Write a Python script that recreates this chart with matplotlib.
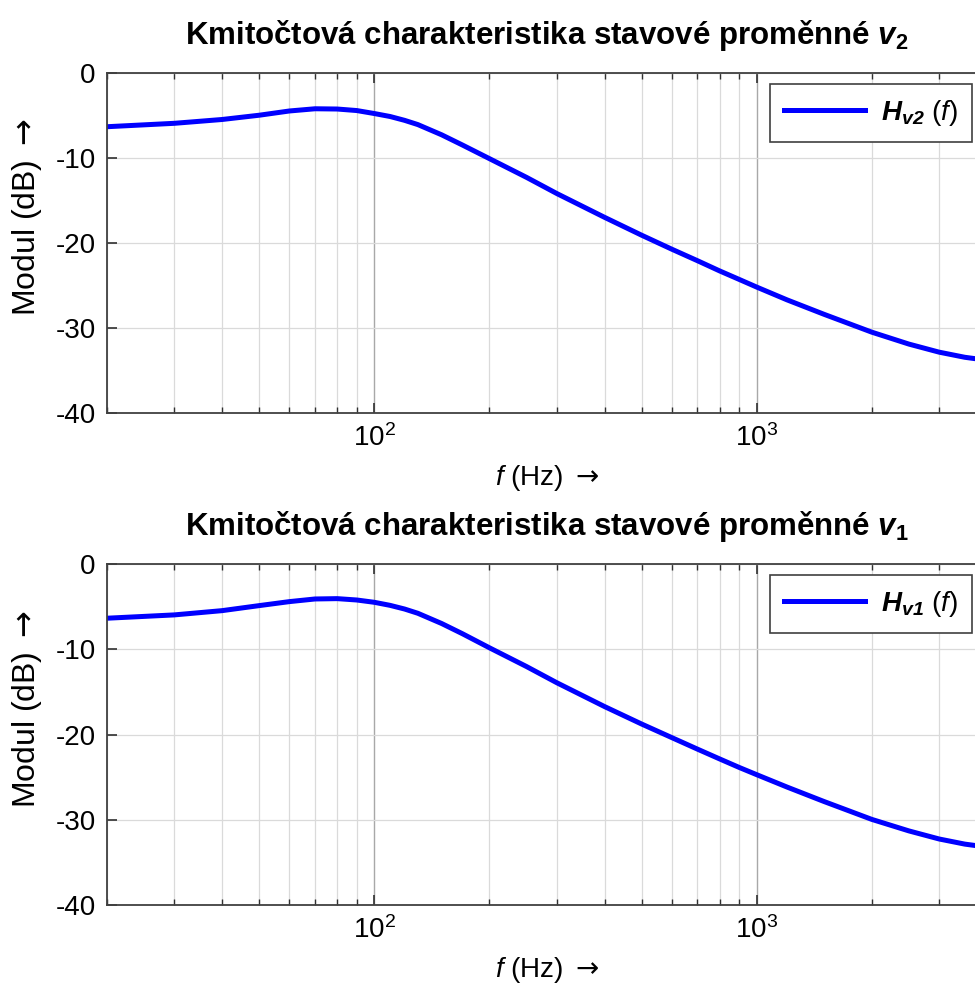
import numpy as np
import matplotlib
matplotlib.use("Agg")
import matplotlib.pyplot as plt
from matplotlib.ticker import LogLocator, NullFormatter

plt.rcParams['font.family'] = ['Liberation Sans', 'DejaVu Sans']
plt.rcParams['mathtext.fontset'] = 'custom'
plt.rcParams['mathtext.rm'] = 'Liberation Sans'
plt.rcParams['mathtext.it'] = 'Liberation Sans:italic'
plt.rcParams['mathtext.bf'] = 'Liberation Sans:bold'
plt.rcParams['mathtext.bfit'] = 'Liberation Sans:bold:italic'
plt.rcParams['mathtext.sf'] = 'DejaVu Sans'
plt.rcParams['axes.unicode_minus'] = False

# kmitocty (Hz) a moduly (dB)
f = [20, 30, 40, 50, 60, 70, 80, 90, 100, 110, 120, 130, 150, 170, 200, 250,
     300, 400, 500, 600, 700, 800, 900, 1000, 1200, 1500, 2000, 2500, 3000,
     3500, 4000]
H_v2 = [-6.35, -5.95, -5.5, -5.0, -4.5, -4.24, -4.27, -4.45, -4.8, -5.15, -5.6,
        -6.1, -7.3, -8.5, -10.1, -12.3, -14.2, -17.0, -19.1, -20.75, -22.1,
        -23.3, -24.3, -25.2, -26.7, -28.4, -30.5, -31.9, -32.85, -33.45, -33.8]
H_v1 = [-6.33, -5.94, -5.44, -4.85, -4.38, -4.07, -4.03, -4.19, -4.46, -4.82,
        -5.25, -5.75, -6.95, -8.15, -9.8, -12.0, -13.9, -16.7, -18.75, -20.35,
        -21.7, -22.85, -23.85, -24.7, -26.15, -27.85, -29.95, -31.3, -32.25,
        -32.85, -33.2]

yticks = [0, -10, -20, -30, -40]

fig = plt.figure(figsize=(9.75, 9.85), dpi=100)

panels = [
    (H_v2, r'$\mathbfit{H}_{\mathbfit{v2}}\ (\mathit{f})$',
     r'Kmitočtová charakteristika stavové proměnné $\mathbfit{v}_{\mathbf{2}}$',
     [0.1097, 0.5807, 0.9026, 0.3455], 1 - 84 / 985),
    (H_v1, r'$\mathbfit{H}_{\mathbfit{v1}}\ (\mathit{f})$',
     r'Kmitočtová charakteristika stavové proměnné $\mathbfit{v}_{\mathbf{1}}$',
     [0.1097, 0.0812, 0.9026, 0.3459], 1 - 575 / 985),
]

for data, lab, title, pos, leg_top in panels:
    ax = fig.add_axes(pos)
    ax.semilogx(f, data, color='#0000ff', lw=3.6, label=lab)
    ax.set_xlim(20, 4000)
    ax.set_ylim(-40, 0)
    ax.set_yticks(yticks)
    ax.xaxis.set_major_locator(LogLocator(base=10, numticks=10))
    ax.xaxis.set_minor_locator(LogLocator(base=10, subs=np.arange(2, 10), numticks=20))
    ax.xaxis.set_minor_formatter(NullFormatter())

    # mrizka
    ax.grid(True, which='major', axis='x', color='#a8a8a8', lw=1.0)
    ax.grid(True, which='minor', axis='x', color='#dadada', lw=0.9)
    ax.grid(True, which='major', axis='y', color='#dadada', lw=0.9)
    ax.set_axisbelow(True)

    ax.tick_params(which='both', direction='in', top=True, right=True,
                   color='#303030', labelsize=20)
    ax.tick_params(which='major', length=7, width=1.2, pad=8)
    ax.tick_params(which='minor', length=4, width=1.0)
    for s in ax.spines.values():
        s.set_color('#404040')
        s.set_linewidth(1.3)

    ax.set_xlabel(r'$\mathit{f}$ (Hz) $\mathsf{\rightarrow}$', fontsize=20, labelpad=8)
    ax.set_ylabel(r'Modul (dB) $\mathsf{\rightarrow}$', fontsize=23)
    ax.yaxis.set_label_coords(-0.072, 0.576)
    ax.set_title(title, fontsize=22.5, fontweight='bold', pad=21)

    leg = ax.legend(loc='upper right', bbox_to_anchor=(972 / 975, leg_top),
                    bbox_transform=fig.transFigure, borderaxespad=0,
                    fontsize=20, handlelength=2.9, fancybox=False,
                    framealpha=1, edgecolor='#404040', borderpad=0.5,
                    handletextpad=0.6)
    leg.get_frame().set_linewidth(1.2)

fig.savefig('out.png', dpi=100)
